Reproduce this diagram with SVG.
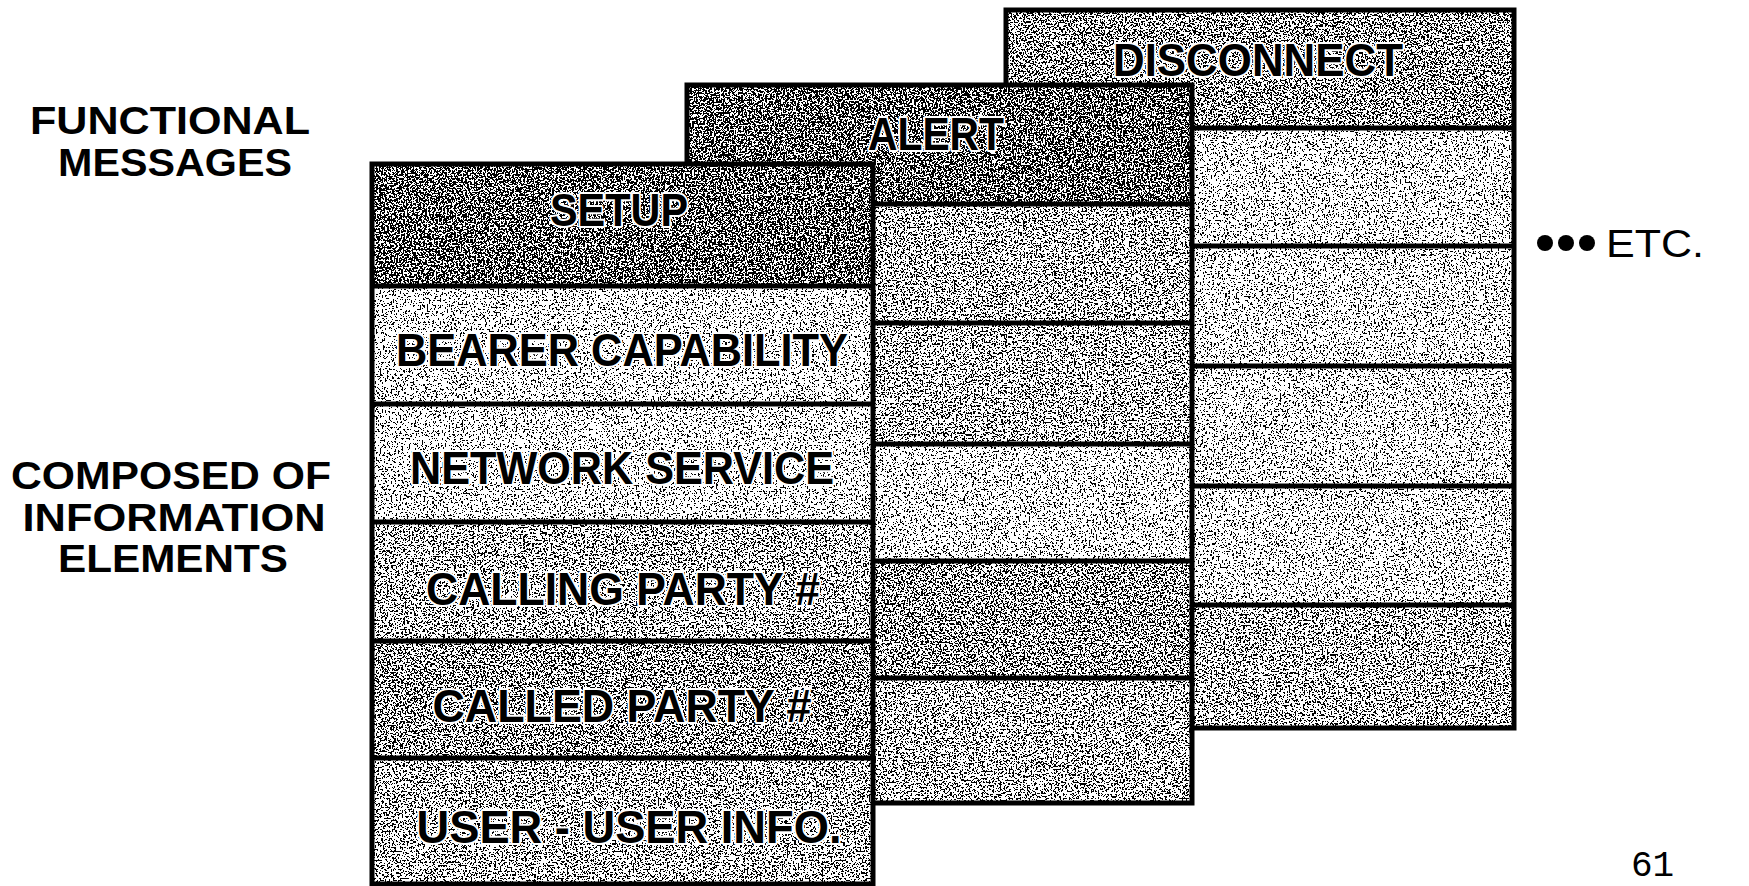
<svg xmlns="http://www.w3.org/2000/svg" width="1749" height="886" viewBox="0 0 1749 886">
<style>
.lbl{font-family:"Liberation Sans",Arial,sans-serif;font-weight:bold;font-size:46px;fill:#000;stroke:#fff;stroke-width:4px;paint-order:stroke;stroke-linejoin:round;text-anchor:middle}
.side{font-family:"Liberation Sans",Arial,sans-serif;font-weight:bold;font-size:38px;fill:#000;text-anchor:middle}
.box{fill:none;stroke:#000;stroke-width:5}
.div{stroke:#000;stroke-width:5}
</style>
<defs>
<filter id="fHead" x="0" y="0" width="1" height="1" color-interpolation-filters="sRGB">
<feFlood flood-color="#fff" result="w"/>
<feTurbulence type="fractalNoise" baseFrequency="0.55" numOctaves="2" seed="4" result="n"/>
<feColorMatrix in="n" type="matrix" values="0 0 0 0 0 0 0 0 0 0 0 0 0 0 0 1 0 0 0 0.02" result="a"/>
<feComponentTransfer in="a" result="s"><feFuncA type="discrete" tableValues="0 1"/></feComponentTransfer>
<feMerge><feMergeNode in="w"/><feMergeNode in="s"/></feMerge>
</filter>
<filter id="fDark" x="0" y="0" width="1" height="1" color-interpolation-filters="sRGB">
<feFlood flood-color="#fff" result="w"/>
<feTurbulence type="fractalNoise" baseFrequency="0.55" numOctaves="2" seed="7" result="n"/>
<feColorMatrix in="n" type="matrix" values="0 0 0 0 0 0 0 0 0 0 0 0 0 0 0 1 0 0 0 -0.03" result="a"/>
<feComponentTransfer in="a" result="s"><feFuncA type="discrete" tableValues="0 1"/></feComponentTransfer>
<feMerge><feMergeNode in="w"/><feMergeNode in="s"/></feMerge>
</filter>
<filter id="fMed" x="0" y="0" width="1" height="1" color-interpolation-filters="sRGB">
<feFlood flood-color="#fff" result="w"/>
<feTurbulence type="fractalNoise" baseFrequency="0.55" numOctaves="2" seed="11" result="n"/>
<feColorMatrix in="n" type="matrix" values="0 0 0 0 0 0 0 0 0 0 0 0 0 0 0 1 0 0 0 -0.06" result="a"/>
<feComponentTransfer in="a" result="s"><feFuncA type="discrete" tableValues="0 1"/></feComponentTransfer>
<feMerge><feMergeNode in="w"/><feMergeNode in="s"/></feMerge>
</filter>
<filter id="fLight" x="0" y="0" width="1" height="1" color-interpolation-filters="sRGB">
<feFlood flood-color="#fff" result="w"/>
<feTurbulence type="fractalNoise" baseFrequency="0.55" numOctaves="2" seed="19" result="n"/>
<feColorMatrix in="n" type="matrix" values="0 0 0 0 0 0 0 0 0 0 0 0 0 0 0 1 0 0 0 -0.10" result="a"/>
<feComponentTransfer in="a" result="s"><feFuncA type="discrete" tableValues="0 1"/></feComponentTransfer>
<feMerge><feMergeNode in="w"/><feMergeNode in="s"/></feMerge>
</filter>
</defs>
<rect width="1749" height="886" fill="#fff"/>

<g id="side-labels">
<text class="side" x="170" y="134" textLength="280" lengthAdjust="spacingAndGlyphs">FUNCTIONAL</text>
<text class="side" x="175" y="176" textLength="234" lengthAdjust="spacingAndGlyphs">MESSAGES</text>
<text class="side" x="171" y="489" textLength="320" lengthAdjust="spacingAndGlyphs">COMPOSED OF</text>
<text class="side" x="174" y="531" textLength="303" lengthAdjust="spacingAndGlyphs">INFORMATION</text>
<text class="side" x="173" y="572" textLength="230" lengthAdjust="spacingAndGlyphs">ELEMENTS</text>
</g>

<g id="disconnect">
<rect x="1006" y="10" width="508" height="118" filter="url(#fDark)"/>
<rect x="1006" y="128" width="508" height="118" filter="url(#fLight)"/>
<rect x="1006" y="246" width="508" height="120" filter="url(#fLight)"/>
<rect x="1006" y="366" width="508" height="120" filter="url(#fLight)"/>
<rect x="1006" y="486" width="508" height="119" filter="url(#fLight)"/>
<rect x="1006" y="605" width="508" height="123" filter="url(#fMed)"/>
<rect class="box" x="1006" y="10" width="508" height="718"/>
<line class="div" x1="1006" y1="128" x2="1514" y2="128"/>
<line class="div" x1="1006" y1="246" x2="1514" y2="246"/>
<line class="div" x1="1006" y1="366" x2="1514" y2="366"/>
<line class="div" x1="1006" y1="486" x2="1514" y2="486"/>
<line class="div" x1="1006" y1="605" x2="1514" y2="605"/>
<text class="lbl" x="1258" y="76" textLength="290" lengthAdjust="spacingAndGlyphs">DISCONNECT</text>
</g>

<g id="alert">
<rect x="687" y="85" width="505" height="119" filter="url(#fHead)"/>
<rect x="687" y="204" width="505" height="119" filter="url(#fMed)"/>
<rect x="687" y="323" width="505" height="121" filter="url(#fMed)"/>
<rect x="687" y="444" width="505" height="117" filter="url(#fLight)"/>
<rect x="687" y="561" width="505" height="117" filter="url(#fDark)"/>
<rect x="687" y="678" width="505" height="125" filter="url(#fMed)"/>
<rect class="box" x="687" y="85" width="505" height="718"/>
<line class="div" x1="687" y1="204" x2="1192" y2="204"/>
<line class="div" x1="687" y1="323" x2="1192" y2="323"/>
<line class="div" x1="687" y1="444" x2="1192" y2="444"/>
<line class="div" x1="687" y1="561" x2="1192" y2="561"/>
<line class="div" x1="687" y1="678" x2="1192" y2="678"/>
<text class="lbl" x="936" y="150" textLength="136" lengthAdjust="spacingAndGlyphs">ALERT</text>
</g>

<g id="setup">
<rect x="372" y="164" width="501" height="122" filter="url(#fHead)"/>
<rect x="372" y="286" width="501" height="118" filter="url(#fLight)"/>
<rect x="372" y="404" width="501" height="118" filter="url(#fLight)"/>
<rect x="372" y="522" width="501" height="119" filter="url(#fMed)"/>
<rect x="372" y="641" width="501" height="117" filter="url(#fDark)"/>
<rect x="372" y="758" width="501" height="126" filter="url(#fMed)"/>
<rect class="box" x="372" y="164" width="501" height="720"/>
<line class="div" x1="372" y1="286" x2="873" y2="286"/>
<line class="div" x1="372" y1="404" x2="873" y2="404"/>
<line class="div" x1="372" y1="522" x2="873" y2="522"/>
<line class="div" x1="372" y1="641" x2="873" y2="641"/>
<line class="div" x1="372" y1="758" x2="873" y2="758"/>
<text class="lbl" x="619" y="226" textLength="138" lengthAdjust="spacingAndGlyphs">SETUP</text>
<text class="lbl" x="622" y="366" textLength="452" lengthAdjust="spacingAndGlyphs">BEARER CAPABILITY</text>
<text class="lbl" x="622" y="484" textLength="424" lengthAdjust="spacingAndGlyphs">NETWORK SERVICE</text>
<text class="lbl" x="623" y="605" textLength="394" lengthAdjust="spacingAndGlyphs">CALLING PARTY #</text>
<text class="lbl" x="622" y="722" textLength="379" lengthAdjust="spacingAndGlyphs">CALLED PARTY #</text>
<text class="lbl" x="629" y="843" textLength="425" lengthAdjust="spacingAndGlyphs">USER - USER INFO.</text>
</g>

<g id="etc">
<circle cx="1545" cy="243" r="8"/>
<circle cx="1566" cy="243" r="8"/>
<circle cx="1587" cy="243" r="8"/>
<text x="1606" y="257" font-family="Liberation Sans, Arial, sans-serif" font-size="39" textLength="98" lengthAdjust="spacingAndGlyphs">ETC.</text>
</g>

<text x="1631" y="876" font-family="Liberation Mono, Courier New, monospace" font-size="36">61</text>
</svg>
